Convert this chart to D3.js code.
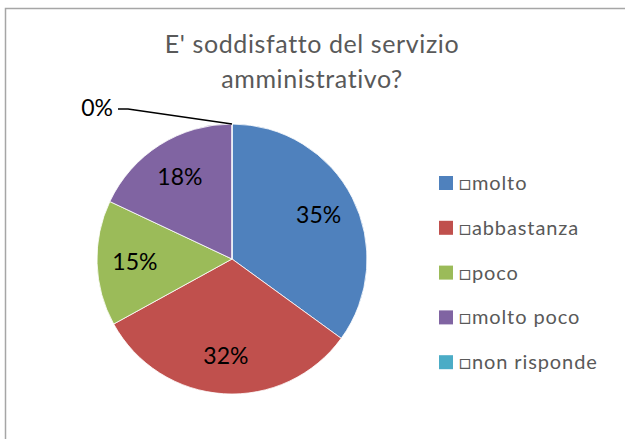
<!DOCTYPE html>
<html>
<head>
	<meta charset="utf-8">
	<title>Pie Chart</title>
	<script src="https://d3js.org/d3.v7.min.js"></script>
	<style type="text/css">
		*
		{
			margin:0;
			padding:0;
		}
		body
		{
			background:#fff;
			font-family: "Lato", "Liberation Sans", sans-serif;
			font-variant-ligatures: none;
		}
	</style>
</head>
<body>
	<div id="chart"></div>
	<script>
		const categories = ["molto", "abbastanza", "poco", "molto poco", "non risponde"];
		const values = [35, 32, 15, 18, 0];
		const colors = ["#4F81BD", "#C0504D", "#9BBB59", "#8064A2", "#4BACC6"];
		const titleLines = ["E' soddisfatto del servizio", "amministrativo?"];

		const width = 625;
		const height = 439;
		const cx = 232, cy = 259, radius = 135;

		const svg = d3.select("#chart").append("svg")
			.attr("width", width)
			.attr("height", height);

		// chart frame (right and bottom edges fall outside the picture)
		svg.append("rect")
			.attr("x", 5.5).attr("y", 8.5)
			.attr("width", 700).attr("height", 500)
			.attr("fill", "none")
			.attr("stroke", "#a6a6a6")
			.attr("stroke-width", 1.5);

		svg.append("g").selectAll("text")
			.data(titleLines)
			.enter()
			.append("text")
			.attr("x", 312)
			.attr("y", (d, i) => 53 + i * 35)
			.attr("text-anchor", "middle")
			.attr("fill", "#595959")
			.style("font-size", "25px")
			.style("letter-spacing", "0.6px")
			.text(d => d);

		const pie = d3.pie().sort(null).value(d => d)(values);
		const arc = d3.arc().innerRadius(0).outerRadius(radius);
		const labelArc = d3.arc().innerRadius(radius * 0.72).outerRadius(radius * 0.72);

		const g = svg.append("g").attr("transform", "translate(" + cx + "," + cy + ")");

		g.selectAll("path")
			.data(pie)
			.enter()
			.append("path")
			.attr("d", arc)
			.attr("fill", (d, i) => colors[i])
			.attr("stroke", "#fff")
			.attr("stroke-width", 0.8);

		// labels for slices that have room inside
		g.selectAll("text.inner")
			.data(pie.filter(d => d.value > 0))
			.enter()
			.append("text")
			.attr("class", "inner")
			.attr("transform", d => "translate(" + labelArc.centroid(d) + ")")
			.attr("text-anchor", "middle")
			.attr("dy", "0.35em")
			.style("font-size", "23px")
			.attr("fill", "#000")
			.text(d => d.value + "%");

		// empty slice: label pulled out with a leader line
		pie.filter(d => d.value === 0).forEach(d => {
			const a = d.startAngle;
			const px = radius * Math.sin(a), py = -radius * Math.cos(a);
			const bx = px - 104, by = py - 15;
			g.append("path")
				.attr("d", "M" + px + "," + py + "L" + bx + "," + by + "L" + (bx - 10) + "," + by)
				.attr("fill", "none")
				.attr("stroke", "#000")
				.attr("stroke-width", 1.5);
			g.append("text")
				.attr("x", bx - 15)
				.attr("y", by)
				.attr("dy", "0.3em")
				.attr("text-anchor", "end")
				.style("font-size", "23px")
				.text(d.value + "%");
		});

		const legend = svg.append("g").selectAll("g")
			.data(categories)
			.enter()
			.append("g")
			.attr("transform", (d, i) => "translate(439," + (183 + i * 44.8) + ")");

		legend.append("rect")
			.attr("x", 0).attr("y", -7)
			.attr("width", 14).attr("height", 14)
			.attr("fill", (d, i) => colors[i]);

		legend.append("text")
			.attr("x", 20)
			.attr("dy", "0.35em")
			.attr("fill", "#595959")
			.style("font-size", "20px")
			.style("letter-spacing", "0.9px")
			.text(d => "\u25A1" + d);
	</script>
</body>
</html>
